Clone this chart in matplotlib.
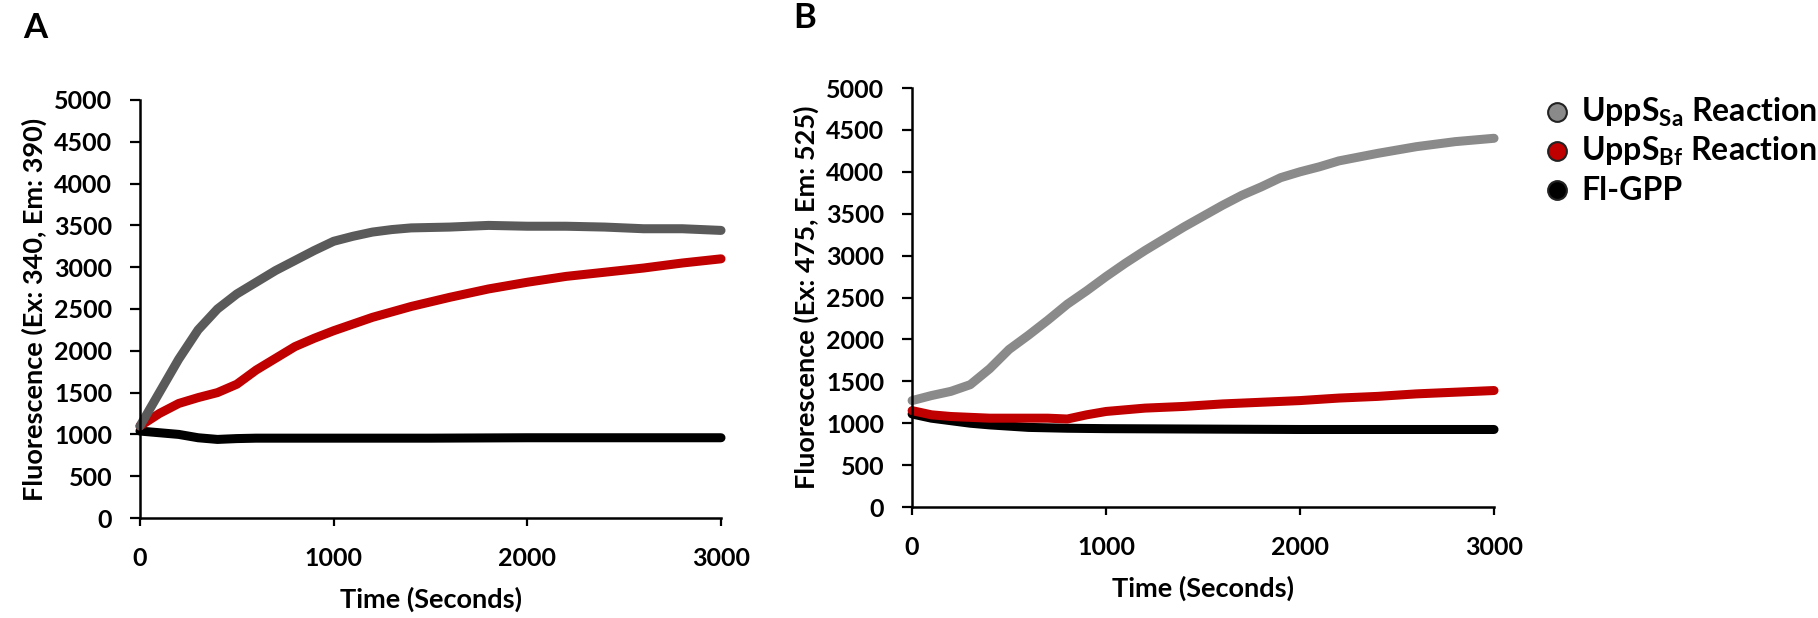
import matplotlib
matplotlib.use('Agg')
import matplotlib.pyplot as plt
from matplotlib.lines import Line2D

plt.rcParams['font.family'] = ['Lato', 'DejaVu Sans']
plt.rcParams['font.weight'] = 'bold'
plt.rcParams['mathtext.fontset'] = 'custom'
plt.rcParams['mathtext.rm'] = 'Lato:bold'
plt.rcParams['mathtext.it'] = 'Lato:bold'
plt.rcParams['mathtext.bf'] = 'Lato:bold'
plt.rcParams['mathtext.default'] = 'rm'

# panel A (Ex 340 / Em 390)
t_a_sa = [0, 100, 200, 300, 400, 500, 600, 700, 800, 900, 1000, 1100, 1200, 1300,
          1400, 1600, 1800, 2000, 2200, 2400, 2600, 2800, 3000]
a_sa = [1100, 1500, 1900, 2250, 2500, 2680, 2820, 2960, 3080, 3200, 3310, 3370, 3420, 3450,
        3470, 3480, 3500, 3490, 3490, 3480, 3460, 3460, 3440]
t_a_bf = [0, 100, 200, 300, 400, 500, 600, 700, 800, 900, 1000, 1200, 1400, 1600, 1800,
          2000, 2200, 2400, 2600, 2800, 3000]
a_bf = [1100, 1250, 1370, 1440, 1500, 1600, 1770, 1910, 2050, 2150, 2240, 2400, 2530, 2640, 2740,
        2820, 2890, 2940, 2990, 3050, 3100]
t_a_gpp = [0, 100, 200, 300, 400, 500, 600, 1000, 1500, 2000, 2500, 3000]
a_gpp = [1040, 1020, 1000, 960, 940, 950, 955, 955, 955, 960, 960, 960]

# panel B (Ex 475 / Em 525)
t_b_sa = [0, 100, 200, 300, 400, 500, 600, 700, 800, 900, 1000, 1100, 1200, 1300, 1400, 1500,
          1600, 1700, 1800, 1900, 2000, 2100, 2200, 2400, 2600, 2800, 3000]
b_sa = [1270, 1330, 1380, 1460, 1650, 1880, 2050, 2230, 2420, 2580, 2750, 2910, 3060, 3200, 3340, 3470,
        3600, 3720, 3820, 3930, 4000, 4060, 4130, 4220, 4300, 4360, 4400]
t_b_bf = [0, 100, 200, 300, 400, 500, 600, 700, 800, 900, 1000, 1200, 1400, 1600, 1800,
          2000, 2200, 2400, 2600, 2800, 3000]
b_bf = [1150, 1100, 1080, 1070, 1060, 1060, 1060, 1060, 1050, 1100, 1140, 1180, 1200, 1230, 1250,
        1270, 1300, 1320, 1350, 1370, 1390]
t_b_gpp = [0, 100, 200, 300, 400, 500, 600, 800, 1000, 1500, 2000, 3000]
b_gpp = [1110, 1060, 1030, 1000, 980, 965, 950, 940, 935, 930, 925, 925]

series_names = ['UppS$_{Sa}$ Reaction', 'UppS$_{Bf}$ Reaction', 'Fl-GPP']
col_sa_a = '#5a5a5a'
col_sa_b = '#8a8a8a'
col_bf = '#c00000'
col_gpp = '#000000'

fig = plt.figure(figsize=(18.18, 6.18), dpi=100)
ax_a = fig.add_axes([0.0770, 0.1618, 0.3196, 0.6764])
ax_b = fig.add_axes([0.5017, 0.1796, 0.3201, 0.6780])


def style(ax, ylabel):
    ax.set_xlim(0, 3000)
    ax.set_ylim(0, 5000)
    ax.set_xticks([0, 1000, 2000, 3000])
    ax.set_yticks(range(0, 5001, 500))
    for s in ['top', 'right']:
        ax.spines[s].set_visible(False)
    for s in ['left', 'bottom']:
        ax.spines[s].set_linewidth(1.8)
    ax.tick_params(direction='out', width=1.6, labelsize=18)
    ax.tick_params(axis='y', length=7, pad=13)
    ax.tick_params(axis='x', length=6, pad=15)
    ax.set_xlabel('Time (Seconds)', fontsize=19.5, fontweight='bold', labelpad=12)
    ax.set_ylabel(ylabel, fontsize=19.5, fontweight='bold', labelpad=5)


def draw(ax, t, y, c):
    ax.plot(t, y, color=c, lw=6.5, solid_capstyle='round', solid_joinstyle='round', clip_on=False)


draw(ax_a, t_a_gpp, a_gpp, col_gpp)
draw(ax_a, t_a_bf, a_bf, col_bf)
draw(ax_a, t_a_sa, a_sa, col_sa_a)
style(ax_a, 'Fluorescence (Ex: 340, Em: 390)')

draw(ax_b, t_b_gpp, b_gpp, col_gpp)
draw(ax_b, t_b_bf, b_bf, col_bf)
draw(ax_b, t_b_sa, b_sa, col_sa_b)
style(ax_b, 'Fluorescence (Ex: 475, Em: 525)')

fig.text(0.0127, 0.9385, 'A', fontsize=25, fontweight='bold', va='baseline')
fig.text(0.4362, 0.955, 'B', fontsize=25, fontweight='bold', va='baseline')

# legend drawn by hand so rows sit where the original puts them
row_y = [0.802, 0.739, 0.676]
for name, c, y in zip(series_names, [col_sa_b, col_bf, col_gpp], row_y):
    fig.add_artist(Line2D([0.8564], [y + 0.017], transform=fig.transFigure, ls='none',
                          marker='o', ms=13.5, mfc=c, mec='#222222', mew=1.5))
    fig.text(0.8696, y, name, fontsize=23, fontweight='bold', va='baseline')

fig.savefig('out.png', dpi=100)
